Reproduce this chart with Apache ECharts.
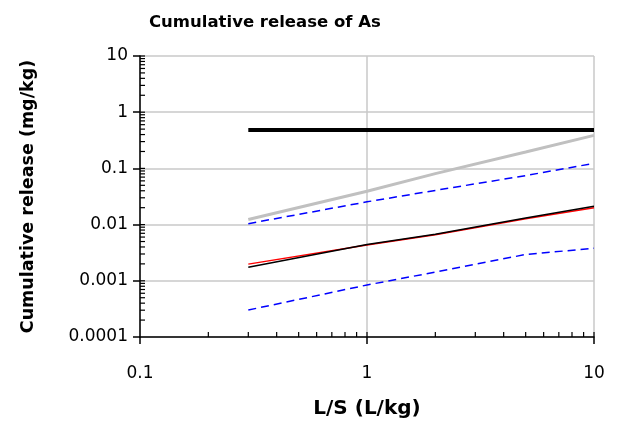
<!DOCTYPE html>
<html>
<head>
<meta charset="utf-8">
<script src="https://cdn.jsdelivr.net/npm/echarts@6/dist/echarts.min.js"></script>
<style>
html,body{margin:0;padding:0;background:#fff;}
#chart{width:617px;height:426px;}
</style>
</head>
<body>
<div id="chart"></div>
<script>
// L/S values (L/kg)
const lsValues = [0.3, 1, 2, 5, 10];
// Series values (mg/kg)
const limitValues = [0.48, 0.48, 0.48, 0.48, 0.48];
const greyValues = [0.0123, 0.0391, 0.0808, 0.196, 0.387];
const upperBlueValues = [0.0104, 0.0254, 0.0406, 0.0745, 0.123];
const redValues = [0.00198, 0.00432, 0.0066, 0.0127, 0.0200];
const blackValues = [0.00175, 0.00443, 0.00675, 0.0131, 0.0212];
const lowerBlueValues = [0.000302, 0.000842, 0.00143, 0.00294, 0.00379];
// Tick labels
const xTickLabels = ['0.1', '1', '10'];
const yTickLabels = ['0.0001', '0.001', '0.01', '0.1', '1', '10'];
// Inner ticks (minor 2..9 per decade, plus majors)
const xInnerTicks = [0.2,0.3,0.4,0.5,0.6,0.7,0.8,0.9,1,2,3,4,5,6,7,8,9,10];
const yInnerTicks = [0.0002,0.0003,0.0004,0.0005,0.0006,0.0007,0.0008,0.0009,0.001,
  0.002,0.003,0.004,0.005,0.006,0.007,0.008,0.009,0.01,
  0.02,0.03,0.04,0.05,0.06,0.07,0.08,0.09,0.1,
  0.2,0.3,0.4,0.5,0.6,0.7,0.8,0.9,1,
  2,3,4,5,6,7,8,9,10];

const xMin = 0.1, xMax = 10, yMin = 0.0001, yMax = 10;

function labelFor(list) {
  return function (v) {
    for (const l of list) {
      if (Math.abs(Math.log10(v) - Math.log10(parseFloat(l))) < 1e-6) return l;
    }
    return '';
  };
}
function pairs(xs, ys) { return xs.map((x, i) => [x, ys[i]]); }

const font = 'DejaVu Sans';
const chart = echarts.init(document.getElementById('chart'), null, {renderer: 'canvas'});
chart.setOption({
  animation: false,
  backgroundColor: '#ffffff',
  title: {
    text: 'Cumulative release of As',
    left: 144, top: 9,
    textStyle: {fontFamily: font, fontSize: 16.5, fontWeight: 'bold', color: '#000'}
  },
  grid: {left: 140, top: 56, right: 23, bottom: 89, containLabel: false},
  xAxis: {
    type: 'log', logBase: 10, min: xMin, max: xMax,
    name: 'L/S (L/kg)', nameLocation: 'middle', nameGap: 62,
    nameTextStyle: {fontFamily: font, fontSize: 20, fontWeight: 'bold', color: '#000'},
    axisLine: {show: true, onZero: false, lineStyle: {color: '#000', width: 1.5}},
    axisTick: {show: true, inside: false, length: 7, lineStyle: {color: '#000', width: 1.5}},
    axisLabel: {margin: 28, fontFamily: font, fontSize: 17, color: '#000', formatter: labelFor(xTickLabels)},
    splitLine: {show: true, lineStyle: {color: '#c8c8c8', width: 1.5}},
    minorTick: {show: false}, minorSplitLine: {show: false}
  },
  yAxis: {
    type: 'log', logBase: 10, min: yMin, max: yMax,
    name: 'Cumulative release (mg/kg)', nameLocation: 'middle', nameGap: 103,
    nameTextStyle: {fontFamily: font, fontSize: 17.5, fontWeight: 'bold', color: '#000'},
    axisLine: {show: true, onZero: false, lineStyle: {color: '#000', width: 1.5}},
    axisTick: {show: true, inside: false, length: 7, lineStyle: {color: '#000', width: 1.5}},
    axisLabel: {margin: 12, fontFamily: font, fontSize: 17, color: '#000', formatter: labelFor(yTickLabels)},
    splitLine: {show: true, lineStyle: {color: '#c8c8c8', width: 1.5}},
    minorTick: {show: false}, minorSplitLine: {show: false}
  },
  series: [
    {
      type: 'custom', silent: true, clip: false, z: 5,
      data: xInnerTicks.map(v => [v, yMin]),
      renderItem: function (params, api) {
        const p = api.coord([api.value(0), api.value(1)]);
        const len = 5;
        return {type: 'line', shape: {x1: p[0], y1: p[1], x2: p[0], y2: p[1] - len},
          style: {stroke: '#000', lineWidth: 1.2}};
      }
    },
    {
      type: 'custom', silent: true, clip: false, z: 5,
      data: yInnerTicks.map(v => [xMin, v]),
      renderItem: function (params, api) {
        const p = api.coord([api.value(0), api.value(1)]);
        const len = 5;
        return {type: 'line', shape: {x1: p[0], y1: p[1], x2: p[0] + len, y2: p[1]},
          style: {stroke: '#000', lineWidth: 1.2}};
      }
    },
    {
      name: 'limit', type: 'line', data: pairs(lsValues, limitValues), showSymbol: false, symbol: 'none',
      lineStyle: {color: '#000', width: 4}, z: 3
    },
    {
      name: 'grey', type: 'line', data: pairs(lsValues, greyValues), showSymbol: false, symbol: 'none',
      lineStyle: {color: '#c0c0c0', width: 3}, z: 3
    },
    {
      name: 'upperBlue', type: 'line', data: pairs(lsValues, upperBlueValues), showSymbol: false, symbol: 'none',
      lineStyle: {color: '#0000ff', width: 1.5, type: [8, 5]}, z: 3
    },
    {
      name: 'red', type: 'line', data: pairs(lsValues, redValues), showSymbol: false, symbol: 'none',
      lineStyle: {color: '#ff0000', width: 1.5}, z: 3
    },
    {
      name: 'black', type: 'line', data: pairs(lsValues, blackValues), showSymbol: false, symbol: 'none',
      lineStyle: {color: '#000000', width: 1.5}, z: 4
    },
    {
      name: 'lowerBlue', type: 'line', data: pairs(lsValues, lowerBlueValues), showSymbol: false, symbol: 'none',
      lineStyle: {color: '#0000ff', width: 1.5, type: [8, 5]}, z: 3
    }
  ]
});
</script>
</body>
</html>
